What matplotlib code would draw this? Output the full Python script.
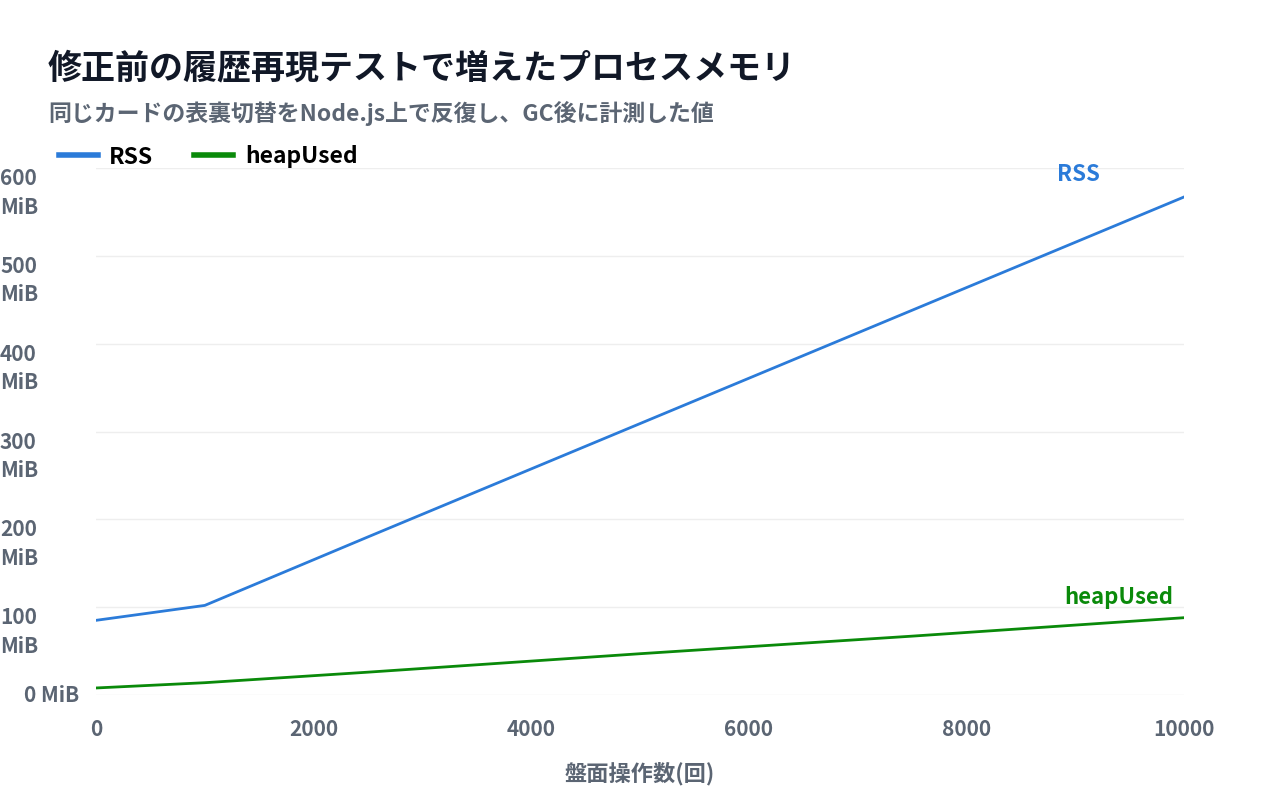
import matplotlib
matplotlib.use("Agg")
import matplotlib.pyplot as plt
from matplotlib.lines import Line2D

plt.rcParams['font.family'] = ['Noto Sans CJK JP', 'DejaVu Sans']

ops = [0, 1000, 2500, 5000, 7500, 10000]
rss = [85, 102, 180, 309, 438, 567]
heap = [8, 14, 26, 47, 67, 88]
yticks = [0, 100, 200, 300, 400, 500, 600]
ylabels = ["0 MiB", "100\nMiB", "200\nMiB", "300\nMiB", "400\nMiB", "500\nMiB", "600\nMiB"]
xticks = [0, 2000, 4000, 6000, 8000, 10000]

c_rss = "#2b7bd9"
c_heap = "#0a8a0a"
txt = "#5b6573"

fig = plt.figure(figsize=(12.8, 8), dpi=100)
ax = fig.add_axes([96/1280, 105/800, 1088/1280, 527/800])
ax.plot(ops, rss, color=c_rss, lw=2)
ax.plot(ops, heap, color=c_heap, lw=2)
ax.set_xlim(0, 10000)
ax.set_ylim(0, 600)
ax.set_yticks(yticks)
ax.set_yticklabels([])
for v, lab in zip(yticks, ylabels):
    if "\n" in lab:
        ax.text(-96/1088, v, lab, transform=ax.get_yaxis_transform(), fontsize=15, fontweight='bold',
                color=txt, ha='left', va='top', linespacing=1.45,
                )
    else:
        ax.text(-17/1088, v, lab, transform=ax.get_yaxis_transform(), fontsize=15, fontweight='bold',
                color=txt, ha='right', va='center')
ax.set_xticks(xticks)
ax.set_xticklabels([str(v) for v in xticks], fontsize=15, fontweight='bold', color=txt)
ax.tick_params(length=0, pad=17)
ax.grid(axis='y', color='#eeeeee', lw=1)
for s in ax.spines.values():
    s.set_visible(False)
ax.set_xlabel("盤面操作数(回)", fontsize=16, fontweight='bold', color=txt, labelpad=16)

ax.text(9230, rss[-1] + 12, "RSS", color=c_rss, fontsize=16, fontweight='bold', ha='right', va='bottom')
ax.text(9900, heap[-1] + 10, "heapUsed", color=c_heap, fontsize=16, fontweight='bold', ha='right', va='bottom')

fig.text(48/1280, 1 - 68/800, "修正前の履歴再現テストで増えたプロセスメモリ", fontsize=24.5, fontweight='bold', color="#111827", va='center')
fig.text(48/1280, 1 - 113/800, "同じカードの表裏切替をNode.js上で反復し、GC後に計測した値", fontsize=16.5, fontweight='bold', color=txt, va='center')

handles = [Line2D([], [], color=c_rss, lw=4), Line2D([], [], color=c_heap, lw=4)]
fig.legend(handles, ["RSS", "heapUsed"], loc='center left', bbox_to_anchor=(38/1280, 1 - 157/800),
           ncol=2, frameon=False, handlelength=1.7, handletextpad=0.5, columnspacing=1.8,
           prop={'weight': 'bold', 'size': 16.5})
fig.savefig("out.png", dpi=100)
